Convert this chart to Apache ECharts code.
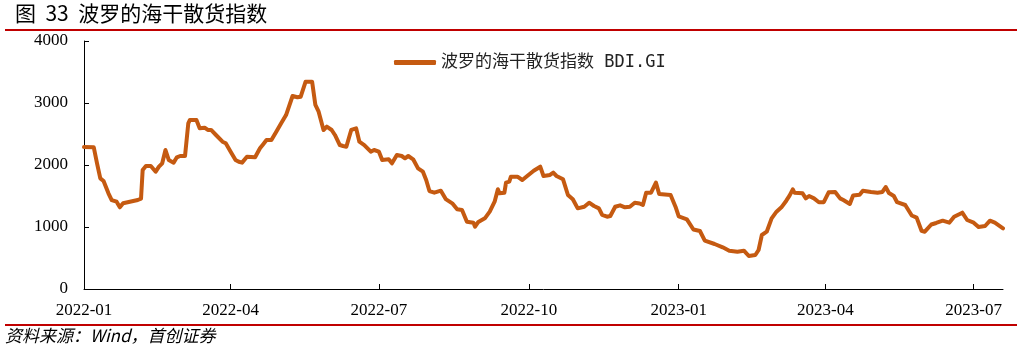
<!DOCTYPE html>
<html>
<head>
<meta charset="utf-8">
<script src="https://cdn.jsdelivr.net/npm/echarts@6/dist/echarts.min.js"></script>
<style>
html,body{margin:0;padding:0;background:#fff;}
#chart{width:1017px;height:351px;}
</style>
</head>
<body>
<div id="chart"></div>
<script>
// ---- data ----
const titleText = '图  33  波罗的海干散货指数';
const sourceText = '资料来源：Wind，首创证券';
const seriesName = '波罗的海干散货指数 BDI.GI';
const axisStart = '2022-01-01';
const axisEnd = '2023-07-19';
const quarterTickMonths = ['01', '04', '07', '10'];
const yTicks = [0, 1000, 2000, 3000, 4000];

const sampleDates = [
 '2022-01-01','2022-01-07','2022-01-09','2022-01-11','2022-01-13','2022-01-16','2022-01-18','2022-01-21','2022-01-23','2022-01-25',
 '2022-02-03','2022-02-05','2022-02-06','2022-02-08','2022-02-11','2022-02-14','2022-02-16','2022-02-18','2022-02-20','2022-02-22',
 '2022-02-25','2022-02-27','2022-03-01','2022-03-04','2022-03-06','2022-03-07','2022-03-11','2022-03-13','2022-03-16','2022-03-18',
 '2022-03-20','2022-03-23','2022-03-27','2022-03-29','2022-04-01','2022-04-04','2022-04-06','2022-04-08','2022-04-11','2022-04-16',
 '2022-04-19','2022-04-21','2022-04-23','2022-04-26','2022-04-29','2022-05-02','2022-05-05','2022-05-09','2022-05-12','2022-05-14',
 '2022-05-17','2022-05-21','2022-05-23','2022-05-25','2022-05-28','2022-05-30','2022-06-02','2022-06-04','2022-06-07','2022-06-09',
 '2022-06-11','2022-06-14','2022-06-17','2022-06-19','2022-06-22','2022-06-26','2022-06-28','2022-07-01','2022-07-03','2022-07-07',
 '2022-07-09','2022-07-12','2022-07-15','2022-07-17','2022-07-19','2022-07-22','2022-07-25','2022-07-28','2022-07-30','2022-08-01',
 '2022-08-04','2022-08-08','2022-08-11','2022-08-15','2022-08-18','2022-08-21','2022-08-24','2022-08-28','2022-08-29','2022-08-31',
 '2022-09-04','2022-09-07','2022-09-10','2022-09-12','2022-09-13','2022-09-16','2022-09-17','2022-09-19','2022-09-20','2022-09-24',
 '2022-09-27','2022-09-30','2022-10-04','2022-10-08','2022-10-10','2022-10-14','2022-10-16','2022-10-18','2022-10-22','2022-10-25',
 '2022-10-28','2022-10-31','2022-11-04','2022-11-07','2022-11-10','2022-11-13','2022-11-15','2022-11-18','2022-11-20','2022-11-23',
 '2022-11-26','2022-11-29','2022-12-02','2022-12-05','2022-12-08','2022-12-10','2022-12-12','2022-12-15','2022-12-18','2022-12-20',
 '2022-12-27','2022-12-30','2023-01-01','2023-01-06','2023-01-10','2023-01-14','2023-01-17','2023-01-23','2023-01-28','2023-02-01',
 '2023-02-06','2023-02-10','2023-02-13','2023-02-17','2023-02-19','2023-02-21','2023-02-24','2023-02-27','2023-03-02','2023-03-05',
 '2023-03-08','2023-03-10','2023-03-12','2023-03-13','2023-03-18','2023-03-20','2023-03-22','2023-03-25','2023-03-28','2023-03-31',
 '2023-04-03','2023-04-07','2023-04-10','2023-04-12','2023-04-16','2023-04-18','2023-04-22','2023-04-24','2023-04-29','2023-05-03',
 '2023-05-06','2023-05-08','2023-05-10','2023-05-13','2023-05-15','2023-05-20','2023-05-24','2023-05-27','2023-05-30','2023-06-01',
 '2023-06-05','2023-06-08','2023-06-12','2023-06-16','2023-06-19','2023-06-24','2023-06-27','2023-07-01','2023-07-04','2023-07-08',
 '2023-07-11','2023-07-14','2023-07-19'
];
const bdiValues = [
 2290,2285,2027,1785,1742,1543,1435,1408,1317,1382,
 1435,1457,1919,1984,1984,1892,1973,2027,2242,2081,
 2038,2124,2145,2145,2672,2726,2726,2592,2602,2565,
 2565,2484,2376,2350,2215,2081,2053,2038,2134,2124,
 2269,2335,2403,2403,2537,2672,2806,3113,3092,3102,
 3344,3344,2968,2860,2565,2618,2565,2484,2322,2306,
 2295,2565,2592,2376,2322,2215,2242,2215,2081,2092,
 2027,2161,2145,2108,2145,2092,1946,1892,1758,1580,
 1554,1586,1450,1382,1285,1274,1086,1070,1005,1081,
 1140,1247,1408,1608,1543,1554,1715,1731,1812,1812,
 1758,1823,1908,1973,1823,1839,1876,1823,1769,1516,
 1447,1301,1327,1392,1339,1301,1194,1166,1177,1327,
 1350,1317,1327,1392,1380,1355,1554,1554,1715,1532,
 1516,1327,1170,1124,960,935,780,726,672,618,
 602,618,532,548,629,871,924,1140,1247,1317,
 1424,1505,1608,1554,1543,1462,1500,1462,1400,1400,
 1559,1565,1462,1435,1371,1508,1520,1586,1565,1554,
 1565,1645,1548,1500,1400,1355,1185,1152,940,924,
 1040,1065,1102,1070,1166,1231,1113,1070,1000,1016,
 1102,1070,979
];

// ---- build daily categories and aligned series ----
function fmt(d){
  const y = d.getUTCFullYear();
  const m = String(d.getUTCMonth()+1).padStart(2,'0');
  const dd = String(d.getUTCDate()).padStart(2,'0');
  return y+'-'+m+'-'+dd;
}
const categories = [];
{
  let d = new Date(axisStart+'T00:00:00Z');
  const end = new Date(axisEnd+'T00:00:00Z');
  while (d <= end) { categories.push(fmt(d)); d = new Date(d.getTime()+86400000); }
}
const idxOf = {};
categories.forEach((c,i)=>{ idxOf[c]=i; });
const seriesData = categories.map(()=>null);
sampleDates.forEach((s,i)=>{ if (idxOf[s] !== undefined) seriesData[idxOf[s]] = bdiValues[i]; });

function isQuarterStart(value){
  return value.slice(8) === '01' && quarterTickMonths.indexOf(value.slice(5,7)) >= 0;
}

const chart = echarts.init(document.getElementById('chart'), null, {renderer:'canvas'});
const serif = '"Liberation Serif","Times New Roman",serif';
const cjk = '"Noto Sans CJK SC","Noto Sans",sans-serif';

chart.setOption({
  animation: false,
  backgroundColor: '#fff',
  title: {
    text: titleText,
    left: 15, top: 3, padding: 0,
    textStyle: { fontFamily: cjk, fontSize: 21, fontWeight: 'normal', color: '#000' }
  },
  legend: {
    data: [seriesName],
    left: 389, top: 49,
    icon: 'roundRect',
    itemWidth: 42, itemHeight: 5, itemGap: 4,
    textStyle: { fontFamily: '"DejaVu Sans Mono","Noto Sans CJK SC",monospace', fontSize: 17, color: '#222' }
  },
  grid: { left: 84, right: 14, top: 41, bottom: 62, containLabel: false },
  xAxis: {
    type: 'category',
    data: categories,
    boundaryGap: false,
    axisLine: { show: true, lineStyle: { color: '#000', width: 1 } },
    axisTick: { show: true, inside: true, length: 5, lineStyle: { color: '#000' },
      interval: (i, v) => isQuarterStart(v) },
    axisLabel: {
      interval: (i, v) => isQuarterStart(v),
      formatter: v => v.slice(0,7),
      hideOverlap: false,
      fontFamily: serif, fontSize: 17, color: '#000', margin: 13
    },
    splitLine: { show: false }
  },
  yAxis: {
    type: 'value',
    min: yTicks[0], max: yTicks[yTicks.length-1], interval: 1000,
    axisLine: { show: true, lineStyle: { color: '#000', width: 1 } },
    axisTick: { show: true, inside: true, length: 5, lineStyle: { color: '#000' } },
    axisLabel: { fontFamily: serif, fontSize: 17, color: '#000', margin: 16, formatter: v => String(v) },
    splitLine: { show: false }
  },
  series: [{
    name: seriesName,
    type: 'line',
    data: seriesData,
    connectNulls: true,
    showSymbol: false,
    symbol: 'none',
    lineStyle: { color: '#C55A11', width: 4, join: 'round', cap: 'round' },
    itemStyle: { color: '#C55A11' }
  }],
  graphic: [
    { type: 'line', shape: { x1: 5, y1: 30, x2: 1017, y2: 30 }, style: { stroke: '#C00000', lineWidth: 2 } },
    { type: 'line', shape: { x1: 5, y1: 325, x2: 1017, y2: 325 }, style: { stroke: '#C00000', lineWidth: 2 } },
    { type: 'text', left: 5, top: 327, style: { text: sourceText, fontFamily: cjk, fontSize: 17, fontStyle: 'italic', fill: '#000' } }
  ]
});
</script>
</body>
</html>
